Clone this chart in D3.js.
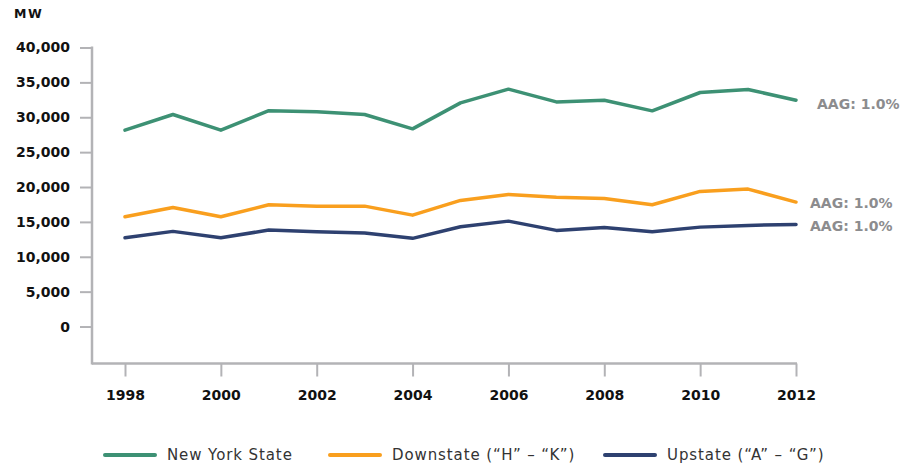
<!DOCTYPE html>
<html>
<head>
<meta charset="utf-8">
<script src="https://cdn.jsdelivr.net/npm/d3@7"></script>
<style>
  body { margin: 0; background: #fff; }
  svg { display: block; }
</style>
</head>
<body>
<div id="chart"></div>
<script>
// data
var years = [1998, 1999, 2000, 2001, 2002, 2003, 2004, 2005, 2006, 2007, 2008, 2009, 2010, 2011, 2012];
var nyState = [28150, 30400, 28150, 30950, 30780, 30400, 28340, 32060, 34030, 32200, 32450, 30920, 33550, 33980, 32450];
var downstate = [15730, 17070, 15730, 17450, 17260, 17260, 15970, 18080, 18940, 18550, 18360, 17450, 19370, 19700, 17840];
var upstate = [12720, 13640, 12720, 13830, 13590, 13400, 12640, 14300, 15110, 13780, 14210, 13590, 14250, 14500, 14640];
var seriesNames = ["New York State", "Downstate (\u201cH\u201d \u2013 \u201cK\u201d)", "Upstate (\u201cA\u201d \u2013 \u201cG\u201d)"];
var aagLabels = ["AAG: 1.0%", "AAG: 1.0%", "AAG: 1.0%"];
var yTicks = [0, 5000, 10000, 15000, 20000, 25000, 30000, 35000, 40000];
var xTicks = [1998, 2000, 2002, 2004, 2006, 2008, 2010, 2012];

var width = 905, height = 467;
var colors = ["#3d9174", "#f99f1e", "#2e4170"];

var svg = d3.select("#chart").append("svg")
    .attr("width", width)
    .attr("height", height);

var x = d3.scaleLinear().domain([1998, 2012]).range([125, 796]);
var y = d3.scaleLinear().domain([-5300, 40000]).range([363.5, 47.5]);

var axisColor = "#b3b3b6";
var font = "'DejaVu Sans', sans-serif";

// y axis
var gy = svg.append("g")
    .attr("transform", "translate(92,0)")
    .call(d3.axisLeft(y).tickValues(yTicks).tickSize(12).tickSizeOuter(0).tickPadding(10)
      .tickFormat(d3.format(",")));
gy.select(".domain").remove();
gy.selectAll(".tick line").attr("stroke", axisColor).attr("stroke-width", 2);
gy.selectAll(".tick text")
    .attr("font-family", font).attr("font-weight", "bold")
    .attr("font-size", 14).attr("fill", "#111");

// x axis
var gx = svg.append("g")
    .attr("transform", "translate(0," + y(-5300) + ")")
    .call(d3.axisBottom(x).tickValues(xTicks).tickSize(13).tickSizeOuter(0).tickPadding(14)
      .tickFormat(d3.format("d")));
gx.select(".domain").remove();
gx.selectAll(".tick line").attr("stroke", axisColor).attr("stroke-width", 2);
gx.selectAll(".tick text")
    .attr("font-family", font).attr("font-weight", "bold")
    .attr("font-size", 14).attr("fill", "#111");

// frame lines
svg.append("line")
    .attr("x1", 92).attr("x2", 92)
    .attr("y1", y(40000) - 1).attr("y2", y(-5300) + 1)
    .attr("stroke", axisColor).attr("stroke-width", 2.5);
svg.append("line")
    .attr("x1", 92).attr("x2", x(2012) + 1)
    .attr("y1", y(-5300)).attr("y2", y(-5300))
    .attr("stroke", axisColor).attr("stroke-width", 2.5);

// unit label
svg.append("text")
    .attr("x", 14).attr("y", 18)
    .attr("font-family", font).attr("font-weight", "bold")
    .attr("font-size", 12.5).attr("letter-spacing", 1.5)
    .attr("fill", "#111")
    .text("MW");

var series = [nyState, downstate, upstate];
var line = d3.line()
    .x(function(d, i) { return x(years[i]); })
    .y(function(d) { return y(d); });

svg.append("g").selectAll("path")
    .data(series)
    .enter().append("path")
      .attr("fill", "none")
      .attr("stroke", function(d, i) { return colors[i]; })
      .attr("stroke-width", 3.5)
      .attr("stroke-linejoin", "round")
      .attr("stroke-linecap", "round")
      .attr("d", line);

// AAG labels at line ends
var aagPos = [{x: 817, y: 104}, {x: 810, y: 203}, {x: 810, y: 226}];
svg.append("g").selectAll("text")
    .data(aagLabels)
    .enter().append("text")
      .attr("x", function(d, i) { return aagPos[i].x; })
      .attr("y", function(d, i) { return aagPos[i].y; })
      .attr("dy", "0.36em")
      .attr("font-family", font).attr("font-weight", "bold")
      .attr("font-size", 14).attr("fill", "#8c8c8e")
      .text(function(d) { return d; });

// legend
var legendX = [105, 330, 605];
var legend = svg.append("g").selectAll("g")
    .data(seriesNames)
    .enter().append("g")
      .attr("transform", function(d, i) { return "translate(" + legendX[i] + ",455)"; });

legend.append("line")
    .attr("x1", 0).attr("x2", 50)
    .attr("stroke", function(d, i) { return colors[i]; })
    .attr("stroke-width", 4)
    .attr("stroke-linecap", "round");

legend.append("text")
    .attr("x", 62)
    .attr("dy", "0.36em")
    .attr("font-family", font)
    .attr("font-size", 15).attr("letter-spacing", 0.9).attr("fill", "#333")
    .text(function(d) { return d; });
</script>
</body>
</html>
